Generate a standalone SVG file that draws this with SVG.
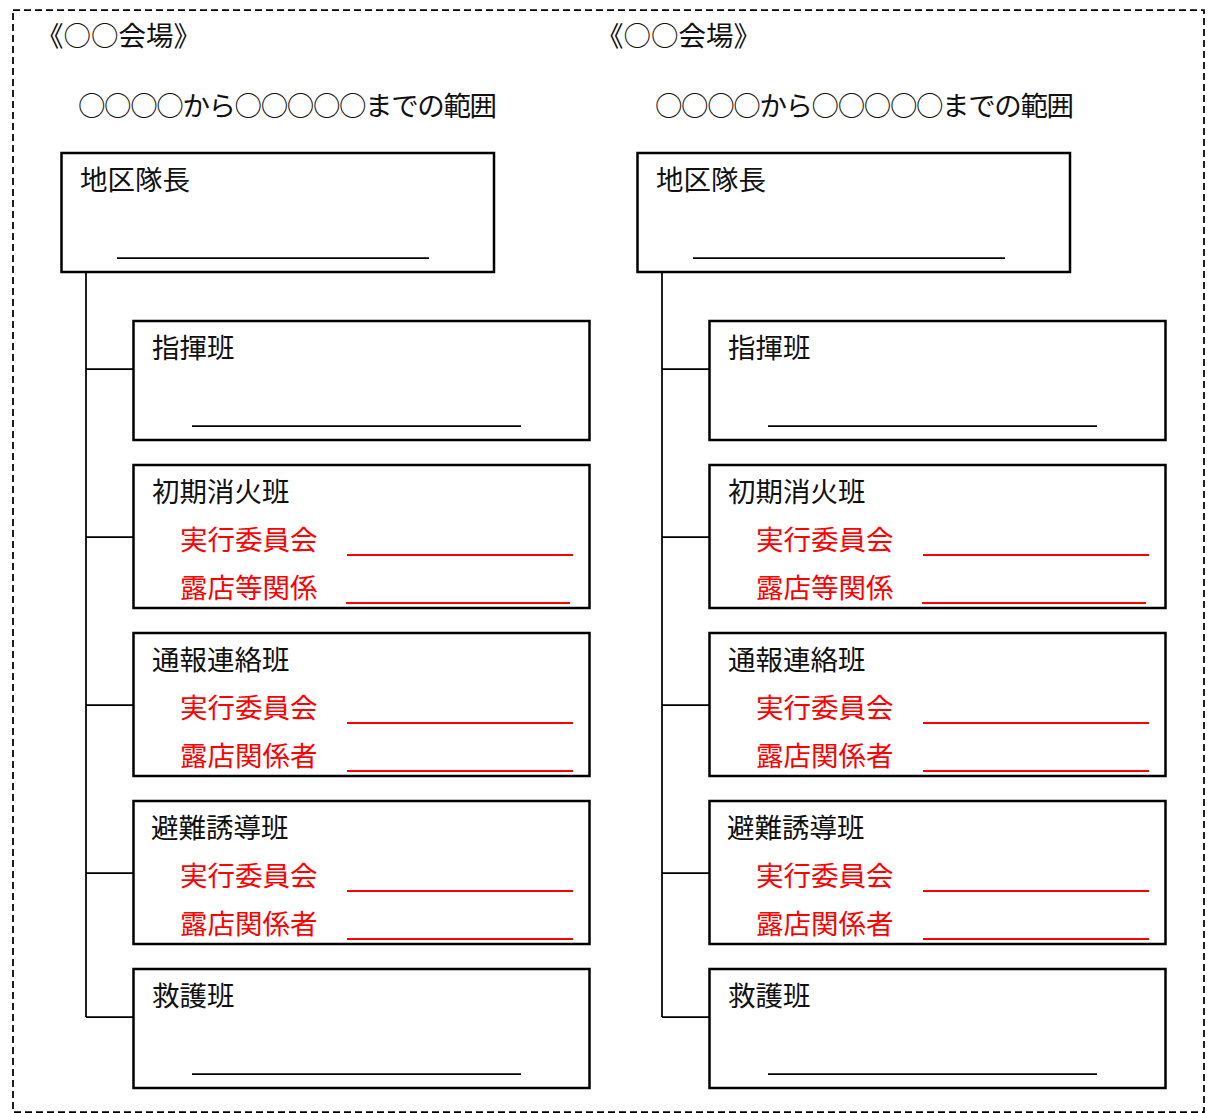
<svg xmlns="http://www.w3.org/2000/svg" width="1212" height="1113" viewBox="0 0 1212 1113">
<style>
text{font-family:"Noto Sans CJK JP","Noto Sans CJK SC",sans-serif;font-size:27.5px;fill:#111}
.red{fill:#ff0000}
.box{fill:#fff;stroke:#000;stroke-width:2.5}
.ul{stroke:#000;stroke-width:1.75}
.rl{stroke:#ff0000;stroke-width:2}
.conn{stroke:#000;stroke-width:1.75;fill:none}
.frame{fill:none;stroke:#000;stroke-width:1.75;stroke-dasharray:7 4}
</style>
<rect class="frame" x="13" y="10" width="1191" height="1102"/>

<g id="left-title">
<text x="36" y="46">《○○会場》</text>
<text x="78" y="116" textLength="419" lengthAdjust="spacing">○○○○から○○○○○までの範囲</text>
</g>
<g id="right-title">
<text x="596" y="46">《○○会場》</text>
<text x="655" y="116" textLength="419" lengthAdjust="spacing">○○○○から○○○○○までの範囲</text>
</g>

<g id="connectors">
<path class="conn" d="M86 272V1017M86 369H133M86 537H133M86 705H133M86 873H133M86 1017H133"/>
<path class="conn" d="M662 272V1017M662 369H709M662 537H709M662 705H709M662 873H709M662 1017H709"/>
</g>

<g id="L-leader">
<rect class="box" x="61.5" y="153" width="432.5" height="119"/>
<text x="80" y="190">地区隊長</text>
<line class="ul" x1="117" y1="258" x2="429" y2="258"/>
</g>
<g id="L-shiki">
<rect class="box" x="133.5" y="321" width="456" height="119"/>
<text x="152" y="358">指揮班</text>
<line class="ul" x1="192" y1="426" x2="521" y2="426"/>
</g>
<g id="L-shoki">
<rect class="box" x="133.5" y="465" width="456" height="143"/>
<text x="152" y="502">初期消火班</text>
<text class="red" x="180" y="550">実行委員会</text>
<line class="rl" x1="347" y1="555" x2="573" y2="555"/>
<text class="red" x="180" y="598">露店等関係</text>
<line class="rl" x1="346" y1="603" x2="570" y2="603"/>
</g>
<g id="L-tsuho">
<rect class="box" x="133.5" y="633" width="456" height="143"/>
<text x="152" y="670">通報連絡班</text>
<text class="red" x="180" y="718">実行委員会</text>
<line class="rl" x1="347" y1="723" x2="573" y2="723"/>
<text class="red" x="180" y="766">露店関係者</text>
<line class="rl" x1="347" y1="771" x2="573" y2="771"/>
</g>
<g id="L-hinan">
<rect class="box" x="133.5" y="801" width="456" height="143"/>
<text x="151" y="838">避難誘導班</text>
<text class="red" x="180" y="886">実行委員会</text>
<line class="rl" x1="347" y1="891" x2="573" y2="891"/>
<text class="red" x="180" y="934">露店関係者</text>
<line class="rl" x1="347" y1="939" x2="573" y2="939"/>
</g>
<g id="L-kyugo">
<rect class="box" x="133.5" y="969" width="456" height="119"/>
<text x="152" y="1006">救護班</text>
<line class="ul" x1="192" y1="1074" x2="521" y2="1074"/>
</g>

<g id="R-leader">
<rect class="box" x="637.5" y="153" width="432.5" height="119"/>
<text x="656" y="190">地区隊長</text>
<line class="ul" x1="693" y1="258" x2="1005" y2="258"/>
</g>
<g id="R-shiki">
<rect class="box" x="709.5" y="321" width="456" height="119"/>
<text x="728" y="358">指揮班</text>
<line class="ul" x1="768" y1="426" x2="1097" y2="426"/>
</g>
<g id="R-shoki">
<rect class="box" x="709.5" y="465" width="456" height="143"/>
<text x="728" y="502">初期消火班</text>
<text class="red" x="756" y="550">実行委員会</text>
<line class="rl" x1="923" y1="555" x2="1149" y2="555"/>
<text class="red" x="756" y="598">露店等関係</text>
<line class="rl" x1="922" y1="603" x2="1146" y2="603"/>
</g>
<g id="R-tsuho">
<rect class="box" x="709.5" y="633" width="456" height="143"/>
<text x="728" y="670">通報連絡班</text>
<text class="red" x="756" y="718">実行委員会</text>
<line class="rl" x1="923" y1="723" x2="1149" y2="723"/>
<text class="red" x="756" y="766">露店関係者</text>
<line class="rl" x1="923" y1="771" x2="1149" y2="771"/>
</g>
<g id="R-hinan">
<rect class="box" x="709.5" y="801" width="456" height="143"/>
<text x="727" y="838">避難誘導班</text>
<text class="red" x="756" y="886">実行委員会</text>
<line class="rl" x1="923" y1="891" x2="1149" y2="891"/>
<text class="red" x="756" y="934">露店関係者</text>
<line class="rl" x1="923" y1="939" x2="1149" y2="939"/>
</g>
<g id="R-kyugo">
<rect class="box" x="709.5" y="969" width="456" height="119"/>
<text x="728" y="1006">救護班</text>
<line class="ul" x1="768" y1="1074" x2="1097" y2="1074"/>
</g>
</svg>
